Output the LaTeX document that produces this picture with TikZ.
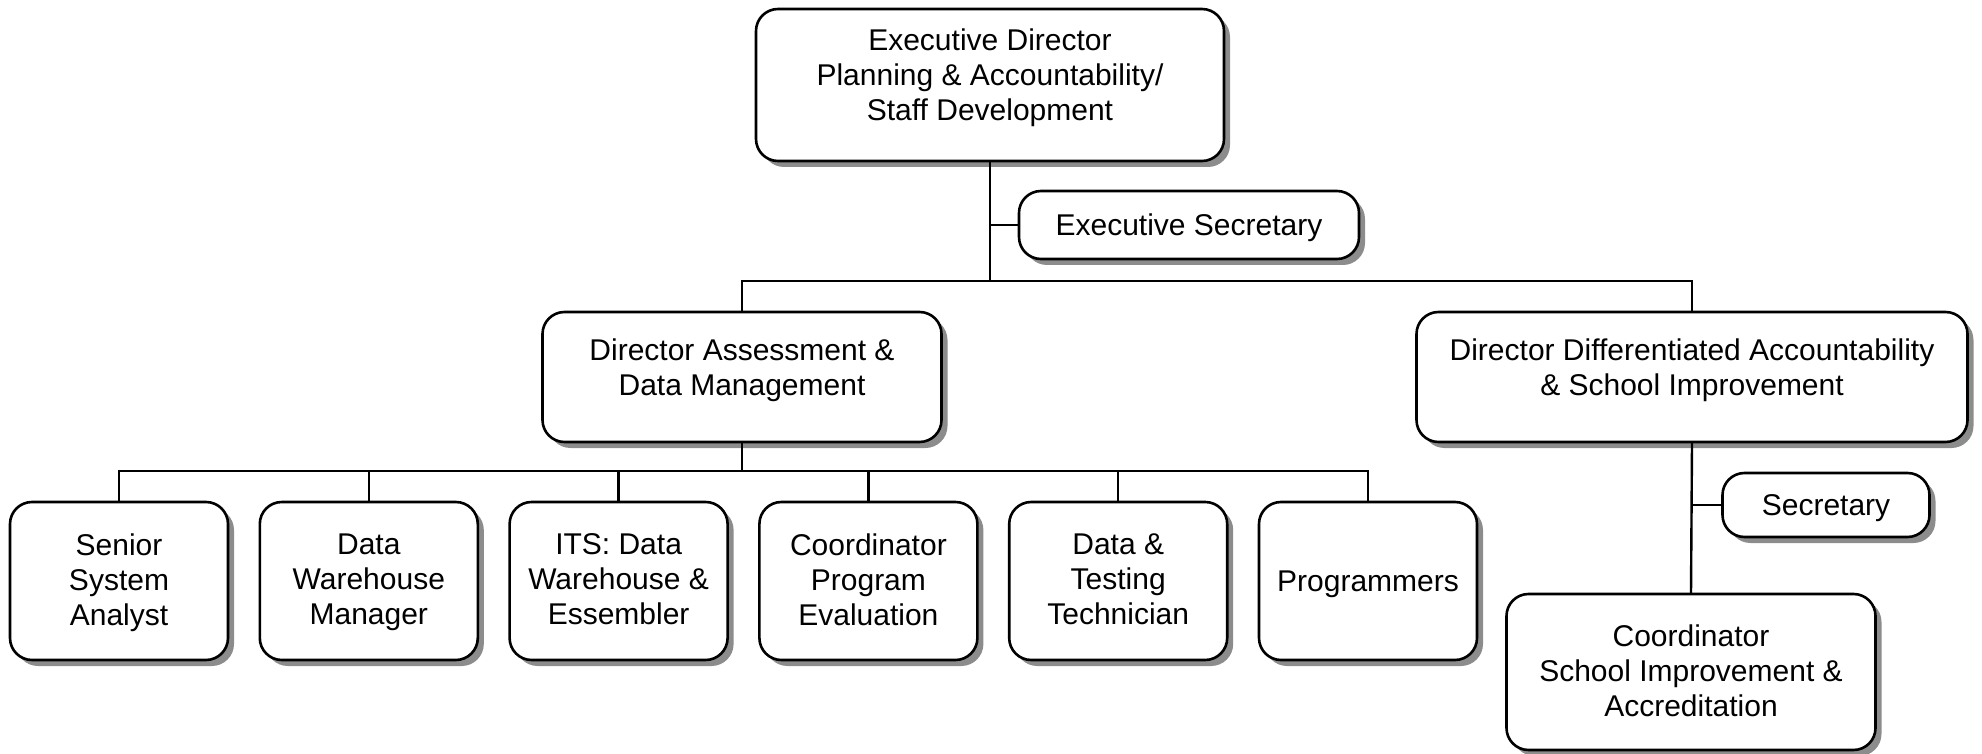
\documentclass[tikz,border=0pt]{standalone}
\usepackage{fontspec}
\setmainfont{Liberation Sans}
\usetikzlibrary{shadows,calc}
\begin{document}
\begin{tikzpicture}[x=1pt,y=-1pt,
  box/.style={draw=black, line width=2.6pt, fill=white, rounded corners=22pt,
    inner sep=0pt, drop shadow={shadow xshift=6pt, shadow yshift=-6pt, fill=gray!90, opacity=1}},
  lbl/.style={align=center, inner sep=0pt, font=\fontsize{30}{35}\selectfont,
    execute at begin node=\strut, execute at end node=\strut, yshift=-3.5pt},
  link/.style={line width=2.4pt, line cap=rect}]
\useasboundingbox (0,0) rectangle (1982,754);

% boxes
\node[box, minimum width=468pt, minimum height=152pt] (top) at (990,85) {};
\node[lbl] (topt) at (990,76) {Executive Director\\Planning \& Accountability/\\Staff Development};

\node[box, minimum width=340pt, minimum height=68pt] (execsec) at (1189,225) {};
\node[lbl] (execsect) at (execsec.center) {Executive Secretary};

\node[box, minimum width=399pt, minimum height=130pt] (dirA) at (742,377) {};
\node[lbl] (dirAt) at (742,369) {Director Assessment \&\\Data Management};

\node[box, minimum width=551pt, minimum height=130pt] (dirD) at (1692,377) {};
\node[lbl] (dirDt) at (1692,369) {Director Differentiated Accountability\\\& School Improvement};

\foreach \i/\t in {1/{Senior\\System\\Analyst},2/{Data\\Warehouse\\Manager},3/{ITS: Data\\Warehouse \&\\Essembler},4/{Coordinator\\Program\\Evaluation},5/{Data \&\\Testing\\Technician},6/{Programmers}}{
  \node[box, minimum width=218pt, minimum height=158pt] (s\i) at ({119+249.8*(\i-1)},581) {};
  \node[lbl] (s\i t) at (s\i.center) {\t};
}

\node[box, minimum width=207pt, minimum height=64pt] (sec) at (1826,505) {};
\node[lbl] (sect) at (sec.center) {Secretary};

\node[box, minimum width=369pt, minimum height=156pt] (coordS) at (1691,672) {};
\node[lbl] (coordSt) at (coordS.center) {Coordinator\\School Improvement \&\\Accreditation};

% connectors
\coordinate (bus1) at (0,281);
\coordinate (bus2) at (0,471);
\draw[link] (top.south) -- (top.south |- bus1);
\draw[link] (execsec.west) -- (execsec.west -| top.south);
\draw[link] (dirA.north) |- (dirD.north |- bus1) -- (dirD.north);

\draw[link] (dirA.south) -- (dirA.south |- bus2);
\draw[link] (s1.north) |- (s6.north |- bus2) -- (s6.north);
\foreach \i in {2,3,4,5}{
  \draw[link] (s\i.north) -- (s\i.north |- bus2);
}

\draw[link] (dirD.south) -- (coordS.north);
\draw[link] (sec.west) -- (sec.west -| dirD.south);
\end{tikzpicture}
\end{document}
